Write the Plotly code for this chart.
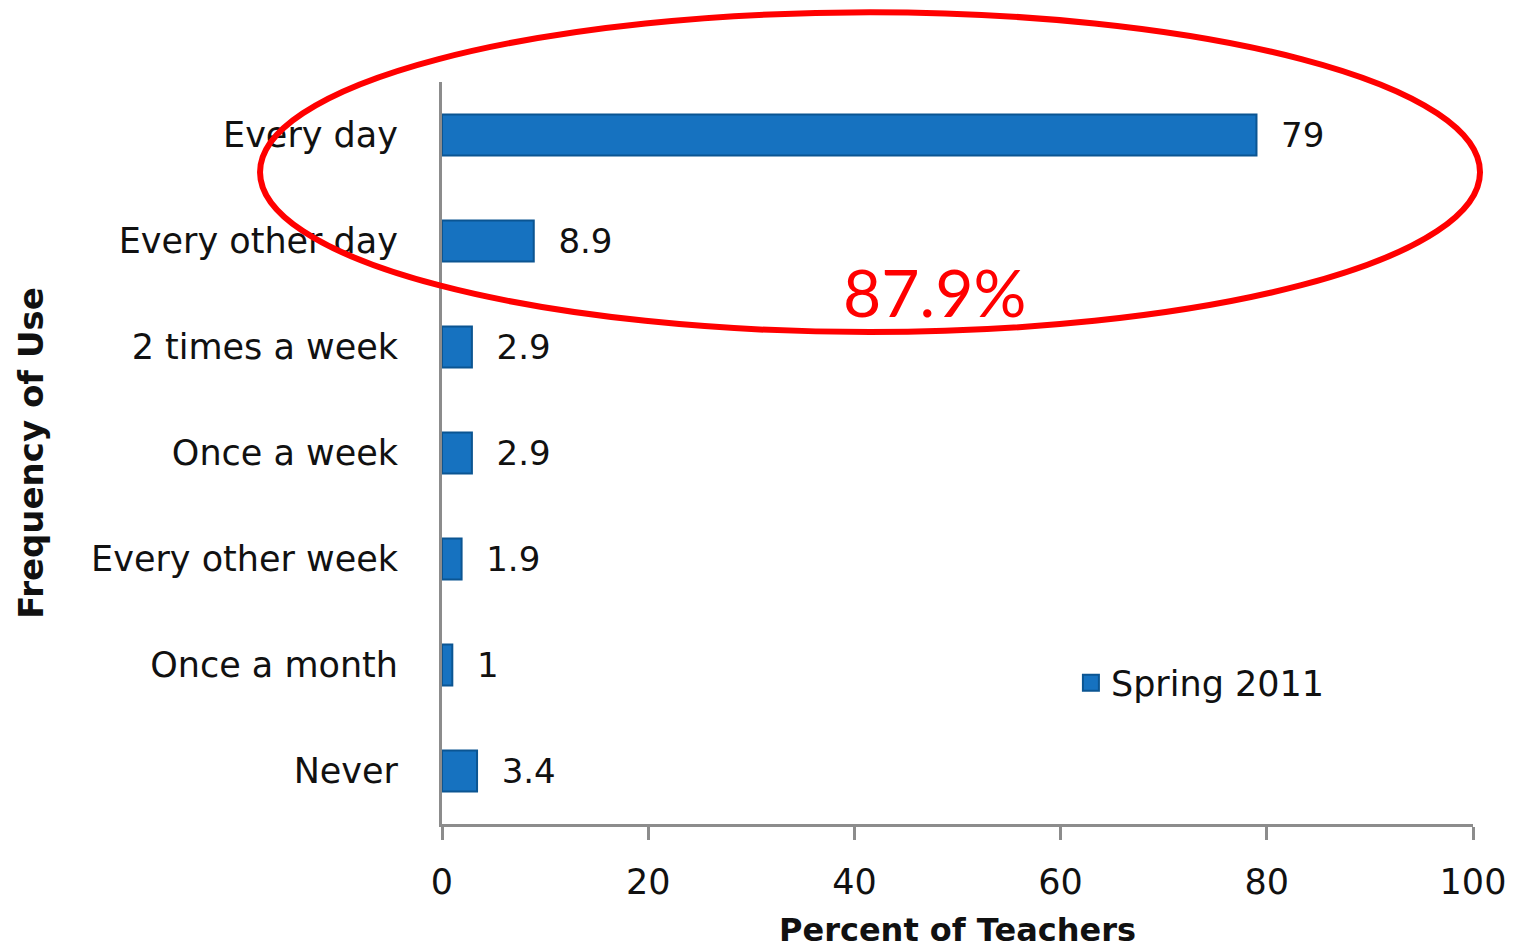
import plotly.graph_objects as go

categories = ["Every day", "Every other day", "2 times a week", "Once a week",
              "Every other week", "Once a month", "Never"]
values = [79, 8.9, 2.9, 2.9, 1.9, 1, 3.4]
value_labels = ["79", "8.9", "2.9", "2.9", "1.9", "1", "3.4"]
x_ticks = [0, 20, 40, 60, 80, 100]
series_name = "Spring 2011"
highlight_text = "87.9%"

FONT = "DejaVu Sans"
BAR_BLUE = "#1672C0"

fig = go.Figure()
fig.add_trace(go.Bar(
    y=categories,
    x=values,
    orientation="h",
    name=series_name,
    text=value_labels,
    texttemplate="\u00a0\u00a0%{text}",
    textposition="outside",
    textfont=dict(family=FONT, size=34, color="#111111"),
    cliponaxis=False,
    marker=dict(color=BAR_BLUE, line=dict(color="#0B5592", width=2)),
    width=0.385,
    showlegend=False,
))
# legend entry with a larger square swatch
fig.add_trace(go.Scatter(
    x=[None], y=[None], mode="markers", name=series_name,
    marker=dict(symbol="square", size=24, color=BAR_BLUE,
                line=dict(color="#0B5592", width=2)),
    showlegend=True,
))

fig.update_layout(
    width=1517, height=946,
    margin=dict(l=434, r=52, t=74, b=127),
    plot_bgcolor="white", paper_bgcolor="white",
    font=dict(family=FONT, size=34, color="#111111"),
    xaxis=dict(
        range=[0, 100], tickvals=x_ticks, ticktext=[str(t) for t in x_ticks],
        showgrid=False, zeroline=False,
        showline=True, linecolor="#8C8C8C", linewidth=3,
        ticks="outside", ticklen=13, tickwidth=3, tickcolor="#8C8C8C",
        ticklabelstandoff=12,
        tickfont=dict(family=FONT, size=35, color="#111111"),
        title=dict(text="<b>Percent of Teachers</b>", font=dict(family=FONT, size=32), standoff=18),
    ),
    yaxis=dict(
        categoryorder="array", categoryarray=categories[::-1],
        showgrid=False, zeroline=False,
        showline=True, linecolor="#8C8C8C", linewidth=3,
        ticks="", ticklabelstandoff=34,
        tickfont=dict(family=FONT, size=35, color="#111111"),
        title=dict(text="<b>Frequency of Use</b>", font=dict(family=FONT, size=34), standoff=38),
    ),
    legend=dict(
        x=0.61, y=0.19, xanchor="left", yanchor="middle",
        bgcolor="rgba(0,0,0,0)",
        font=dict(family=FONT, size=35, color="#111111"),
        itemwidth=30,
    ),
    shapes=[dict(
        type="circle", xref="paper", yref="paper",
        x0=-0.1765, x1=1.0068, y0=0.663, y1=1.094,
        line=dict(color="#FF0000", width=6),
    )],
    annotations=[dict(
        text=highlight_text, xref="paper", yref="paper",
        x=0.478, y=0.717, xanchor="center", yanchor="middle",
        showarrow=False, font=dict(family="Lato", size=66, color="#FF0000"),
    )],
)

fig.write_html("out.html")
